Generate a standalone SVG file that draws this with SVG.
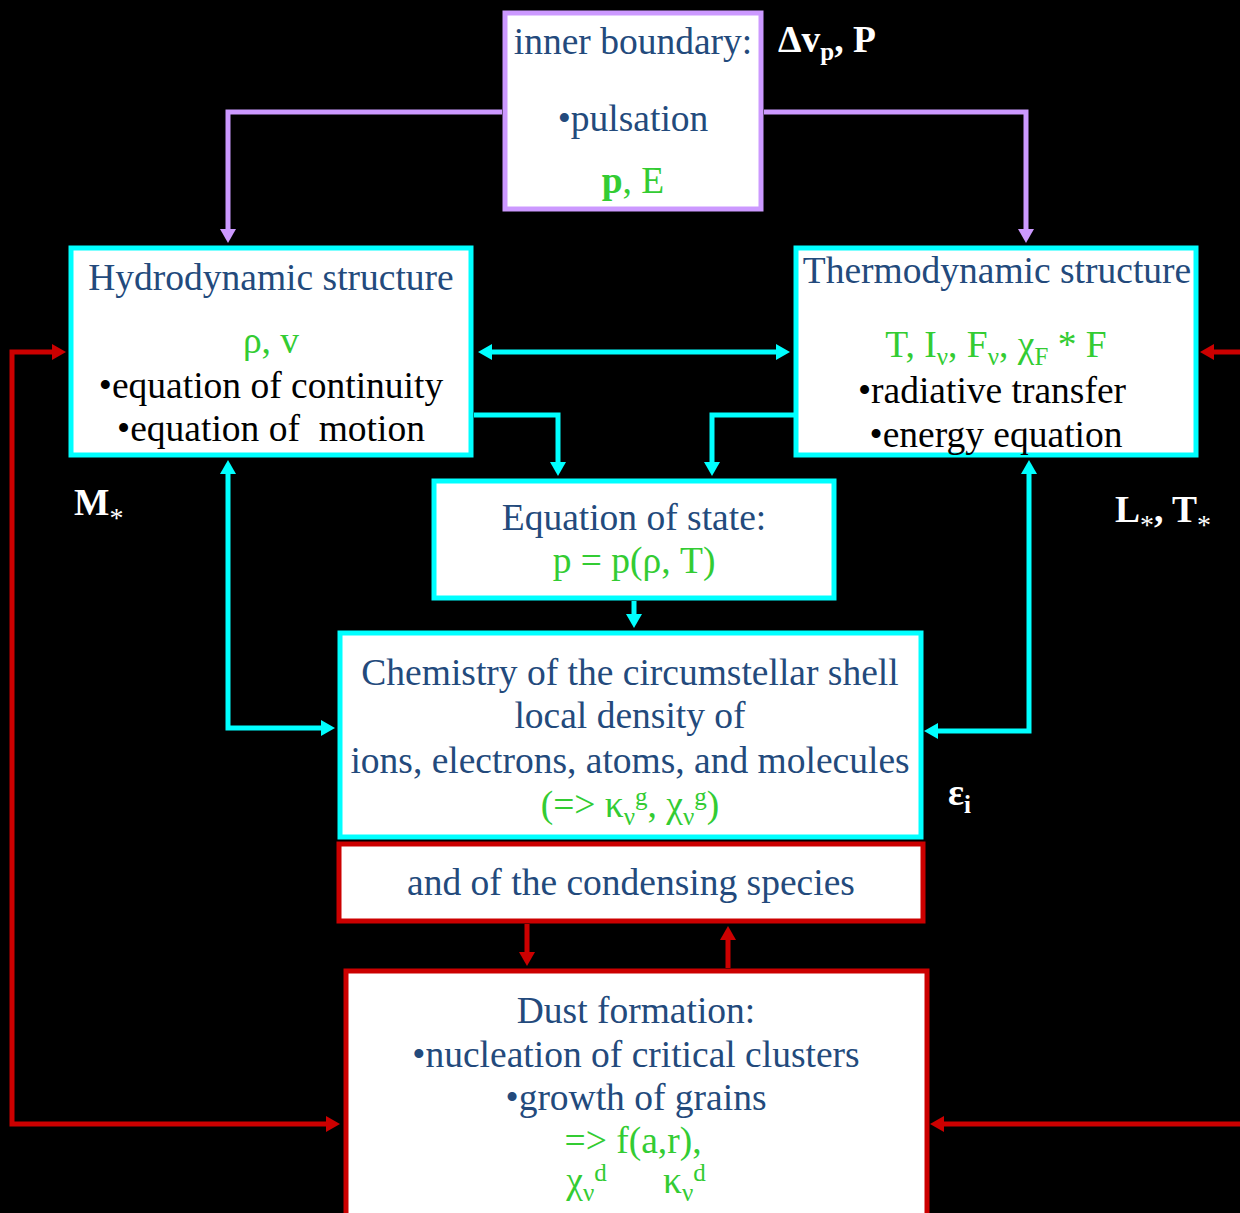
<svg xmlns="http://www.w3.org/2000/svg" width="1240" height="1213" viewBox="0 0 1240 1213">
<style>
text{font-family:"Liberation Serif","Times New Roman",serif;font-size:37.5px;text-anchor:middle}
.b{fill:#234a7c}.g{fill:#33cc33}.k{fill:#000}.w{fill:#fff;font-weight:bold;text-anchor:start}
.box{fill:#fff;stroke-width:5}
.cy{stroke:#00ffff}.pu{stroke:#cc99ff}.rd{stroke:#cc0000}
.ln{fill:none;stroke-width:5}
.s{font-size:25px}
.st{font-size:28px;font-weight:normal}
</style>
<defs>
<marker id="ap" viewBox="0 0 14 16" refX="4" refY="8" markerWidth="14" markerHeight="16" markerUnits="userSpaceOnUse" orient="auto-start-reverse"><path d="M0,0 L14,8 L0,16 z" fill="#cc99ff"/></marker>
<marker id="ac" viewBox="0 0 14 16" refX="4" refY="8" markerWidth="14" markerHeight="16" markerUnits="userSpaceOnUse" orient="auto-start-reverse"><path d="M0,0 L14,8 L0,16 z" fill="#00ffff"/></marker>
<marker id="ar" viewBox="0 0 14 16" refX="4" refY="8" markerWidth="14" markerHeight="16" markerUnits="userSpaceOnUse" orient="auto-start-reverse"><path d="M0,0 L14,8 L0,16 z" fill="#cc0000"/></marker>
</defs>
<rect width="1240" height="1213" fill="#000"/>
<g id="connectors">
<path class="ln pu" d="M502 112 H228 V233" marker-end="url(#ap)"/>
<path class="ln pu" d="M764 112 H1026 V233" marker-end="url(#ap)"/>
<path class="ln cy" d="M488 352 H780" marker-start="url(#ac)" marker-end="url(#ac)"/>
<path class="ln cy" d="M474 415 H558 V466" marker-end="url(#ac)"/>
<path class="ln cy" d="M795 415 H712 V466" marker-end="url(#ac)"/>
<path class="ln cy" d="M634 601 V618" marker-end="url(#ac)"/>
<path class="ln cy" d="M228 470 V728 H325" marker-start="url(#ac)" marker-end="url(#ac)"/>
<path class="ln cy" d="M1029 470 V731 H934" marker-start="url(#ac)" marker-end="url(#ac)"/>
<path class="ln rd" d="M527 924 V956" marker-end="url(#ar)"/>
<path class="ln rd" d="M728 968 V936" marker-end="url(#ar)"/>
<path class="ln rd" d="M56 352 H12 V1124 H330" marker-start="url(#ar)" marker-end="url(#ar)"/>
<path class="ln rd" d="M1210 352 H1250 V1124 H940" marker-start="url(#ar)" marker-end="url(#ar)"/>
</g>
<g id="inner-boundary">
<rect class="box pu" x="505" y="13" width="256" height="196"/>
<text class="b" x="633" y="54">inner boundary:</text>
<text class="b" x="633" y="131">•pulsation</text>
<text class="g" x="633" y="193"><tspan font-weight="bold">p</tspan>, E</text>
</g>
<g id="hydrodynamic">
<rect class="box cy" x="71" y="248" width="400" height="207"/>
<text class="b" x="271" y="290">Hydrodynamic structure</text>
<text class="g" x="271" y="353">ρ, v</text>
<text class="k" x="271" y="398">•equation of continuity</text>
<text class="k" x="271" y="441">•equation of&#160; motion</text>
</g>
<g id="thermodynamic">
<rect class="box cy" x="796" y="248" width="400" height="207"/>
<text class="b" x="997" y="283">Thermodynamic structure</text>
<text class="g" x="996" y="357">T, I<tspan class="s" dy="8">ν</tspan><tspan dy="-8">, F</tspan><tspan class="s" dy="8">ν</tspan><tspan dy="-8">, χ</tspan><tspan class="s" dy="8">F</tspan><tspan dy="-8"> * F</tspan></text>
<text class="k" x="992" y="403">•radiative transfer</text>
<text class="k" x="996" y="447">•energy equation</text>
</g>
<g id="equation-of-state">
<rect class="box cy" x="434" y="481" width="400" height="117"/>
<text class="b" x="634" y="530">Equation of state:</text>
<text class="g" x="634" y="573">p = p(ρ, T)</text>
</g>
<g id="chemistry">
<rect class="box cy" x="340" y="633" width="581" height="204"/>
<text class="b" x="630" y="685">Chemistry of the circumstellar shell</text>
<text class="b" x="630" y="728">local density of</text>
<text class="b" x="630" y="773">ions, electrons, atoms, and molecules</text>
<text class="g" x="630" y="817">(=&gt; κ<tspan class="s" dy="8">ν</tspan><tspan class="s" dy="-20">g</tspan><tspan dy="12">, χ</tspan><tspan class="s" dy="8">ν</tspan><tspan class="s" dy="-20">g</tspan><tspan dy="12">)</tspan></text>
</g>
<g id="condensing">
<rect class="box rd" x="339" y="844" width="584" height="77"/>
<text class="b" x="631" y="895">and of the condensing species</text>
</g>
<g id="dust-formation">
<rect class="box rd" x="346" y="971" width="581" height="250"/>
<text class="b" x="636" y="1023">Dust formation:</text>
<text class="b" x="636" y="1067">•nucleation of critical clusters</text>
<text class="b" x="636" y="1110">•growth of grains</text>
<text class="g" x="633" y="1153">=&gt; f(a,r),</text>
<text class="g" x="636" y="1193">χ<tspan class="s" dy="8">ν</tspan><tspan class="s" dy="-20">d</tspan><tspan dy="12" xml:space="preserve">      κ</tspan><tspan class="s" dy="8">ν</tspan><tspan class="s" dy="-20">d</tspan></text>
</g>
<g id="labels">
<text class="w" x="778" y="52">Δv<tspan class="s" dy="8">p</tspan><tspan dy="-8">, P</tspan></text>
<text class="w" x="74" y="515">M<tspan class="st" dy="12">*</tspan></text>
<text class="w" x="1115" y="522">L<tspan class="st" dy="12">*</tspan><tspan dy="-12">, T</tspan><tspan class="st" dy="12">*</tspan></text>
<text class="w" x="948" y="805" font-weight="normal">ε<tspan class="s" dy="8" font-weight="bold">i</tspan></text>
</g>
</svg>
